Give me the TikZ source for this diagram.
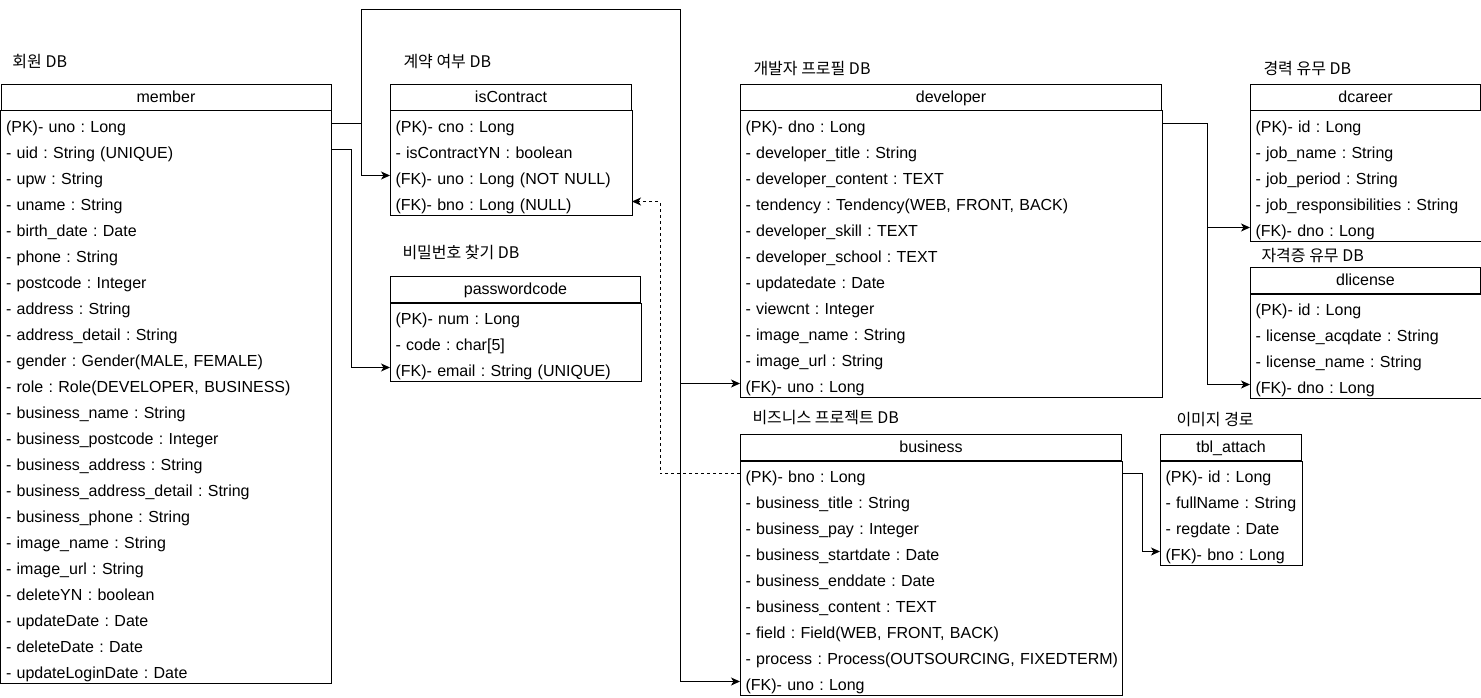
\documentclass[tikz,border=0pt]{standalone}
\usepackage{fontspec}
\setmainfont{Liberation Sans}
\newfontfamily\krfont{Noto Sans CJK KR}
\usetikzlibrary{arrows.meta}

\begin{document}
\begin{tikzpicture}[x=1pt,y=-1pt,line width=1pt,
    font=\fontsize{16pt}{19pt}\selectfont\frenchspacing,
    head/.style={draw,anchor=north west,inner sep=0pt,text height=18pt,text depth=8pt},
    fld/.style={anchor=north west,inner xsep=5pt,inner ysep=0pt,text height=22pt,text depth=4pt,text width=#1},
    dbname/.style={anchor=west,inner sep=0pt,font=\fontsize{16pt}{19pt}\krfont},
    fk/.style={-{Stealth[length=9pt,width=8pt,inset=2.5pt]}}]
  \useasboundingbox (0,0) rectangle (1481,698);

  % member
  \node[dbname] (l-member) at (12,62) {회원 DB};
  \node[head,minimum width=330pt] (member) at (0.5,84) {member};
  \foreach \txt [count=\i] in {{(PK)- uno : Long},{- uid : String (UNIQUE)},{- upw : String},{- uname : String},
      {- birth\_date : Date},{- phone : String},{- postcode : Integer},{- address : String},{- address\_detail : String},
      {- gender : Gender(MALE, FEMALE)},{- role : Role(DEVELOPER, BUSINESS)},{- business\_name : String},
      {- business\_postcode : Integer},{- business\_address : String},{- business\_address\_detail : String},
      {- business\_phone : String},{- image\_name : String},{- image\_url : String},{- deleteYN : boolean},
      {- updateDate : Date},{- deleteDate : Date},{- updateLoginDate : Date}}
    \node[fld=320pt] (member-\i) at (0.5,{84+26*\i}) {\mbox{\txt}};
  \draw (member.south west) rectangle (member-22.south east);

  % isContract
  \node[dbname] (l-isContract) at (403,62) {계약 여부 DB};
  \node[head,minimum width=241pt] (isContract) at (390,84) {isContract};
  \foreach \txt [count=\i] in {{(PK)- cno : Long},{- isContractYN : boolean},{(FK)- uno : Long (NOT NULL)},{(FK)- bno : Long (NULL)}}
    \node[fld=231pt] (isContract-\i) at (390,{84+26*\i}) {\mbox{\txt}};
  \draw (isContract.south west) rectangle (isContract-4.south east);

  % passwordcode
  \node[dbname] (l-passwordcode) at (402,252) {비밀번호 찾기 DB};
  \node[head,minimum width=250pt] (passwordcode) at (390,276) {passwordcode};
  \foreach \txt [count=\i] in {{(PK)- num : Long},{- code : char[5]},{(FK)- email : String (UNIQUE)}}
    \node[fld=240pt] (passwordcode-\i) at (390,{276+26*\i}) {\mbox{\txt}};
  \draw (passwordcode.south west) rectangle (passwordcode-3.south east);

  % developer
  \node[dbname] (l-developer) at (753,69) {개발자 프로필 DB};
  \node[head,minimum width=421pt] (developer) at (740,84) {developer};
  \foreach \txt [count=\i] in {{(PK)- dno : Long},{- developer\_title : String},{- developer\_content : TEXT},
      {- tendency : Tendency(WEB, FRONT, BACK)},{- developer\_skill : TEXT},{- developer\_school : TEXT},
      {- updatedate : Date},{- viewcnt : Integer},{- image\_name : String},{- image\_url : String},{(FK)- uno : Long}}
    \node[fld=411pt] (developer-\i) at (740,{84+26*\i}) {\mbox{\txt}};
  \draw (developer.south west) rectangle (developer-11.south east);

  % business
  \node[dbname] (l-business) at (752,418) {비즈니스 프로젝트 DB};
  \node[head,minimum width=381pt] (business) at (740,434) {business};
  \foreach \txt [count=\i] in {{(PK)- bno : Long},{- business\_title : String},{- business\_pay : Integer},
      {- business\_startdate : Date},{- business\_enddate : Date},{- business\_content : TEXT},
      {- field : Field(WEB, FRONT, BACK)},{- process : Process(OUTSOURCING, FIXEDTERM)},{(FK)- uno : Long}}
    \node[fld=371pt] (business-\i) at (740,{434+26*\i}) {\mbox{\txt}};
  \draw (business.south west) rectangle (business-9.south east);

  % dcareer
  \node[dbname] (l-dcareer) at (1263,69) {경력 유무 DB};
  \node[head,minimum width=230pt] (dcareer) at (1250,84) {dcareer};
  \foreach \txt [count=\i] in {{(PK)- id : Long},{- job\_name : String},{- job\_period : String},
      {- job\_responsibilities : String},{(FK)- dno : Long}}
    \node[fld=220pt] (dcareer-\i) at (1250,{84+26*\i}) {\mbox{\txt}};
  \draw (dcareer.south west) rectangle (dcareer-5.south east);

  % dlicense
  \node[dbname] (l-dlicense) at (1261,256) {자격증 유무 DB};
  \node[head,minimum width=230pt] (dlicense) at (1250,267) {dlicense};
  \foreach \txt [count=\i] in {{(PK)- id : Long},{- license\_acqdate : String},{- license\_name : String},{(FK)- dno : Long}}
    \node[fld=220pt] (dlicense-\i) at (1250,{267+26*\i}) {\mbox{\txt}};
  \draw (dlicense.south west) rectangle (dlicense-4.south east);

  % tbl_attach
  \node[dbname] (l-attach) at (1176,420) {이미지 경로};
  \node[head,minimum width=141pt] (attach) at (1160,434) {tbl\_attach};
  \foreach \txt [count=\i] in {{(PK)- id : Long},{- fullName : String},{- regdate : Date},{(FK)- bno : Long}}
    \node[fld=131pt] (attach-\i) at (1160,{434+26*\i}) {\mbox{\txt}};
  \draw (attach.south west) rectangle (attach-4.south east);

  % relations
  \coordinate (ubus) at (680,10);
  \draw[fk] (member-1.east) -- ++(30,0) |- (isContract-3.west);
  \draw[fk] (member-1.east) -- ++(30,0) |- (ubus) |- (developer-11.west);
  \draw[fk] (ubus) |- (business-9.west);
  \draw[fk] (member-2.east) -- ++(20,0) |- (passwordcode-3.west);
  \draw[fk,dash pattern=on 3pt off 3pt] (business-1.west) -- ++(-80,0) |- (isContract-4.east);
  \draw[fk] (developer-1.east) -- ++(45,0) |- (dcareer-5.west);
  \draw[fk] (developer-1.east) -- ++(45,0) |- (dlicense-4.west);
  \draw[fk] (business-1.east) -- ++(20,0) |- (attach-4.west);
\end{tikzpicture}
\end{document}
